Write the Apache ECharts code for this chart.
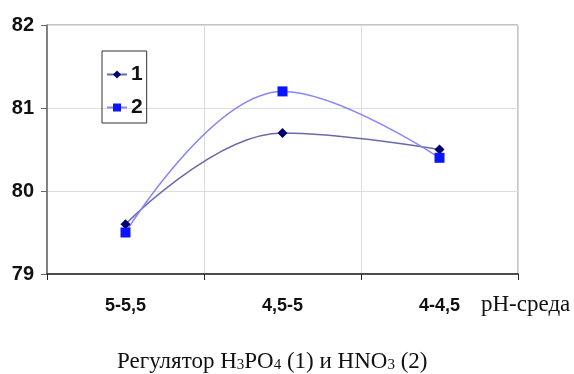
<!DOCTYPE html>
<html><head><meta charset="utf-8">
<script src="https://cdn.jsdelivr.net/npm/echarts@6/dist/echarts.min.js"></script>
<style>html,body{margin:0;padding:0;background:#fff}#c{width:574px;height:374px}</style>
</head><body><div id="c"></div>
<script>
var categories = ['5-5,5', '4,5-5', '4-4,5'];
var series1 = [79.6, 80.7, 80.5];
var series2 = [79.5, 81.2, 80.4];
var seriesNames = ['1', '2'];
var xAxisName = 'pH-среда';

var sans = 'Liberation Sans, Arial, sans-serif';
var serif = 'Liberation Serif, Times New Roman, serif';
var chart = echarts.init(document.getElementById('c'));
chart.setOption({
  animation: false,
  grid: {left: 47, right: 56, top: 25, bottom: 100, show: true, borderColor: '#888', borderWidth: 1},
  legend: {
    orient: 'vertical', left: 102, top: 51, itemGap: 12, padding: [13, 4, 5, 4],
    borderColor: '#333', borderWidth: 1, itemWidth: 20, itemHeight: 10,
    textStyle: {fontFamily: sans, fontWeight: 'bold', fontSize: 21, color: '#111', padding: [0, 0, 0, -1]},
    data: seriesNames
  },
  title: {
    text: '{a|Регулятор H}{s|3}{a|PO}{s|4}{a| (1) и HNO}{s|3}{a| (2)}',
    left: 112, top: 340,
    textStyle: {fontWeight: 'normal', rich: {
      a: {fontFamily: serif, fontWeight: 'normal', fontSize: 23, color: '#111', verticalAlign: 'bottom', lineHeight: 28},
      s: {fontFamily: serif, fontWeight: 'normal', fontSize: 15, color: '#111', verticalAlign: 'bottom', lineHeight: 14}
    }}
  },
  graphic: [{type: 'text', left: 481, top: 293, style: {text: xAxisName, font: '23px ' + serif, fill: '#111'}}],
  xAxis: {
    type: 'category', data: categories, boundaryGap: true,
    axisLine: {lineStyle: {color: '#222', width: 1.5}},
    axisTick: {show: true, length: 6, lineStyle: {color: '#222'}},
    axisLabel: {margin: 23, fontFamily: sans, fontWeight: 'bold', fontSize: 18, color: '#111'},
    splitLine: {show: true, lineStyle: {color: '#ddd'}}
  },
  yAxis: {
    type: 'value', min: 79, max: 82, interval: 1,
    axisLine: {show: true, lineStyle: {color: '#666', width: 1.5}},
    axisTick: {show: true, length: 6, lineStyle: {color: '#666'}},
    axisLabel: {margin: 13, fontFamily: sans, fontWeight: 'bold', fontSize: 20, color: '#111'},
    splitLine: {show: true, lineStyle: {color: '#ddd'}}
  },
  series: [
    {name: seriesNames[0], type: 'line', data: series1, smooth: 0.4, symbol: 'diamond', symbolSize: 10,
     lineStyle: {color: '#6a6aa8', width: 1.5}, itemStyle: {color: '#00006e'}},
    {name: seriesNames[1], type: 'line', data: series2, smooth: 0.4, symbol: 'rect', symbolSize: 10,
     lineStyle: {color: '#8585ff', width: 1.5}, itemStyle: {color: '#0a14ff'}}
  ]
});
</script></body></html>
